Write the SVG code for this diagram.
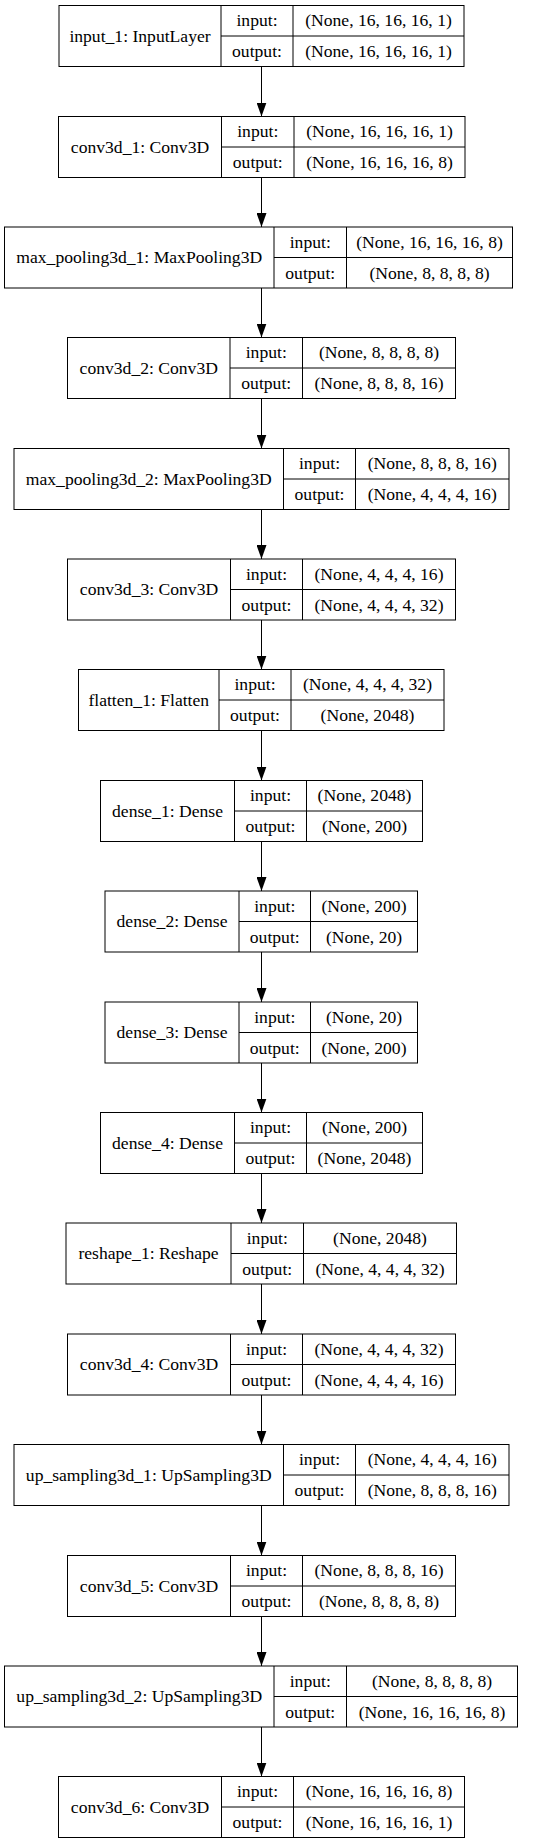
<svg xmlns="http://www.w3.org/2000/svg" width="541" height="1844" viewBox="0 0 541 1844">
<style>
.b{fill:#fff;stroke:#000;stroke-width:1}
.d{stroke:#000;stroke-width:1;fill:none}
text{font-family:"Liberation Serif","Times New Roman",serif;font-size:17.6px;fill:#000;text-anchor:middle}
.e{stroke:#000;stroke-width:1;fill:none;marker-end:url(#ah)}
</style>
<defs>
<marker id="ah" markerUnits="userSpaceOnUse" markerWidth="14" markerHeight="10" refX="14" refY="5" orient="auto" viewBox="0 0 14 10"><path d="M0,0 L14,5 L0,10 z" fill="#000"/></marker>
</defs>
<rect width="541" height="1844" fill="#fff"/>
<g id="connectors">
<path class="e" d="M261.5,66.5 V116.5"/>
<path class="e" d="M261.5,177.5 V227"/>
<path class="e" d="M261.5,288 V337.5"/>
<path class="e" d="M261.5,398.5 V448.5"/>
<path class="e" d="M261.5,509.5 V559"/>
<path class="e" d="M261.5,620 V669.5"/>
<path class="e" d="M261.5,730.5 V780.5"/>
<path class="e" d="M261.5,841.5 V891"/>
<path class="e" d="M261.5,952 V1002"/>
<path class="e" d="M261.5,1063 V1112.5"/>
<path class="e" d="M261.5,1173.5 V1223"/>
<path class="e" d="M261.5,1284 V1334"/>
<path class="e" d="M261.5,1395 V1444.5"/>
<path class="e" d="M261.5,1505.5 V1555.5"/>
<path class="e" d="M261.5,1616.5 V1666"/>
<path class="e" d="M261.5,1727 V1776.5"/>
</g>
<g id="input_1" transform="translate(0,5.5)">
<rect class="b" x="59" y="0" width="405" height="61"/>
<path class="d" d="M221,0V61M293,0V61M221,30.5H464"/>
<text x="140" y="36">input_1: InputLayer</text>
<text x="257" y="20.5">input:</text><text x="378.5" y="20.5">(None, 16, 16, 16, 1)</text>
<text x="257" y="51.5">output:</text><text x="378.5" y="51.5">(None, 16, 16, 16, 1)</text>
</g>
<g id="conv3d_1" transform="translate(0,116.5)">
<rect class="b" x="58.5" y="0" width="406.5" height="61"/>
<path class="d" d="M221.5,0V61M294,0V61M221.5,30.5H465"/>
<text x="140" y="36">conv3d_1: Conv3D</text>
<text x="257.75" y="20.5">input:</text><text x="379.5" y="20.5">(None, 16, 16, 16, 1)</text>
<text x="257.75" y="51.5">output:</text><text x="379.5" y="51.5">(None, 16, 16, 16, 8)</text>
</g>
<g id="max_pooling3d_1" transform="translate(0,227)">
<rect class="b" x="4.5" y="0" width="508" height="61"/>
<path class="d" d="M274,0V61M346.5,0V61M274,30.5H512.5"/>
<text x="139.25" y="36">max_pooling3d_1: MaxPooling3D</text>
<text x="310.25" y="20.5">input:</text><text x="429.5" y="20.5">(None, 16, 16, 16, 8)</text>
<text x="310.25" y="51.5">output:</text><text x="429.5" y="51.5">(None, 8, 8, 8, 8)</text>
</g>
<g id="conv3d_2" transform="translate(0,337.5)">
<rect class="b" x="67.5" y="0" width="388" height="61"/>
<path class="d" d="M230,0V61M302.5,0V61M230,30.5H455.5"/>
<text x="148.75" y="36">conv3d_2: Conv3D</text>
<text x="266.25" y="20.5">input:</text><text x="379" y="20.5">(None, 8, 8, 8, 8)</text>
<text x="266.25" y="51.5">output:</text><text x="379" y="51.5">(None, 8, 8, 8, 16)</text>
</g>
<g id="max_pooling3d_2" transform="translate(0,448.5)">
<rect class="b" x="14" y="0" width="495" height="61"/>
<path class="d" d="M283.5,0V61M355.5,0V61M283.5,30.5H509"/>
<text x="148.75" y="36">max_pooling3d_2: MaxPooling3D</text>
<text x="319.5" y="20.5">input:</text><text x="432.25" y="20.5">(None, 8, 8, 8, 16)</text>
<text x="319.5" y="51.5">output:</text><text x="432.25" y="51.5">(None, 4, 4, 4, 16)</text>
</g>
<g id="conv3d_3" transform="translate(0,559)">
<rect class="b" x="67.5" y="0" width="388" height="61"/>
<path class="d" d="M230.5,0V61M302.5,0V61M230.5,30.5H455.5"/>
<text x="149" y="36">conv3d_3: Conv3D</text>
<text x="266.5" y="20.5">input:</text><text x="379" y="20.5">(None, 4, 4, 4, 16)</text>
<text x="266.5" y="51.5">output:</text><text x="379" y="51.5">(None, 4, 4, 4, 32)</text>
</g>
<g id="flatten_1" transform="translate(0,669.5)">
<rect class="b" x="78.5" y="0" width="365.5" height="61"/>
<path class="d" d="M219,0V61M291,0V61M219,30.5H444"/>
<text x="148.75" y="36">flatten_1: Flatten</text>
<text x="255" y="20.5">input:</text><text x="367.5" y="20.5">(None, 4, 4, 4, 32)</text>
<text x="255" y="51.5">output:</text><text x="367.5" y="51.5">(None, 2048)</text>
</g>
<g id="dense_1" transform="translate(0,780.5)">
<rect class="b" x="100.5" y="0" width="322" height="61"/>
<path class="d" d="M234.5,0V61M306.5,0V61M234.5,30.5H422.5"/>
<text x="167.5" y="36">dense_1: Dense</text>
<text x="270.5" y="20.5">input:</text><text x="364.5" y="20.5">(None, 2048)</text>
<text x="270.5" y="51.5">output:</text><text x="364.5" y="51.5">(None, 200)</text>
</g>
<g id="dense_2" transform="translate(0,891)">
<rect class="b" x="105" y="0" width="312.5" height="61"/>
<path class="d" d="M239,0V61M310.5,0V61M239,30.5H417.5"/>
<text x="172" y="36">dense_2: Dense</text>
<text x="274.75" y="20.5">input:</text><text x="364" y="20.5">(None, 200)</text>
<text x="274.75" y="51.5">output:</text><text x="364" y="51.5">(None, 20)</text>
</g>
<g id="dense_3" transform="translate(0,1002)">
<rect class="b" x="105" y="0" width="312.5" height="61"/>
<path class="d" d="M239,0V61M310.5,0V61M239,30.5H417.5"/>
<text x="172" y="36">dense_3: Dense</text>
<text x="274.75" y="20.5">input:</text><text x="364" y="20.5">(None, 20)</text>
<text x="274.75" y="51.5">output:</text><text x="364" y="51.5">(None, 200)</text>
</g>
<g id="dense_4" transform="translate(0,1112.5)">
<rect class="b" x="100.5" y="0" width="322" height="61"/>
<path class="d" d="M234.5,0V61M306.5,0V61M234.5,30.5H422.5"/>
<text x="167.5" y="36">dense_4: Dense</text>
<text x="270.5" y="20.5">input:</text><text x="364.5" y="20.5">(None, 200)</text>
<text x="270.5" y="51.5">output:</text><text x="364.5" y="51.5">(None, 2048)</text>
</g>
<g id="reshape_1" transform="translate(0,1223)">
<rect class="b" x="66" y="0" width="390.5" height="61"/>
<path class="d" d="M231,0V61M303.5,0V61M231,30.5H456.5"/>
<text x="148.5" y="36">reshape_1: Reshape</text>
<text x="267.25" y="20.5">input:</text><text x="380" y="20.5">(None, 2048)</text>
<text x="267.25" y="51.5">output:</text><text x="380" y="51.5">(None, 4, 4, 4, 32)</text>
</g>
<g id="conv3d_4" transform="translate(0,1334)">
<rect class="b" x="67.5" y="0" width="388" height="61"/>
<path class="d" d="M230.5,0V61M302.5,0V61M230.5,30.5H455.5"/>
<text x="149" y="36">conv3d_4: Conv3D</text>
<text x="266.5" y="20.5">input:</text><text x="379" y="20.5">(None, 4, 4, 4, 32)</text>
<text x="266.5" y="51.5">output:</text><text x="379" y="51.5">(None, 4, 4, 4, 16)</text>
</g>
<g id="up_sampling3d_1" transform="translate(0,1444.5)">
<rect class="b" x="14" y="0" width="495" height="61"/>
<path class="d" d="M283.5,0V61M355.5,0V61M283.5,30.5H509"/>
<text x="148.75" y="36">up_sampling3d_1: UpSampling3D</text>
<text x="319.5" y="20.5">input:</text><text x="432.25" y="20.5">(None, 4, 4, 4, 16)</text>
<text x="319.5" y="51.5">output:</text><text x="432.25" y="51.5">(None, 8, 8, 8, 16)</text>
</g>
<g id="conv3d_5" transform="translate(0,1555.5)">
<rect class="b" x="67.5" y="0" width="388" height="61"/>
<path class="d" d="M230.5,0V61M302.5,0V61M230.5,30.5H455.5"/>
<text x="149" y="36">conv3d_5: Conv3D</text>
<text x="266.5" y="20.5">input:</text><text x="379" y="20.5">(None, 8, 8, 8, 16)</text>
<text x="266.5" y="51.5">output:</text><text x="379" y="51.5">(None, 8, 8, 8, 8)</text>
</g>
<g id="up_sampling3d_2" transform="translate(0,1666)">
<rect class="b" x="4.5" y="0" width="513" height="61"/>
<path class="d" d="M274,0V61M346.5,0V61M274,30.5H517.5"/>
<text x="139.25" y="36">up_sampling3d_2: UpSampling3D</text>
<text x="310.25" y="20.5">input:</text><text x="432" y="20.5">(None, 8, 8, 8, 8)</text>
<text x="310.25" y="51.5">output:</text><text x="432" y="51.5">(None, 16, 16, 16, 8)</text>
</g>
<g id="conv3d_6" transform="translate(0,1776.5)">
<rect class="b" x="58.5" y="0" width="406" height="61"/>
<path class="d" d="M221.5,0V61M293.5,0V61M221.5,30.5H464.5"/>
<text x="140" y="36">conv3d_6: Conv3D</text>
<text x="257.5" y="20.5">input:</text><text x="379" y="20.5">(None, 16, 16, 16, 8)</text>
<text x="257.5" y="51.5">output:</text><text x="379" y="51.5">(None, 16, 16, 16, 1)</text>
</g>
</svg>
